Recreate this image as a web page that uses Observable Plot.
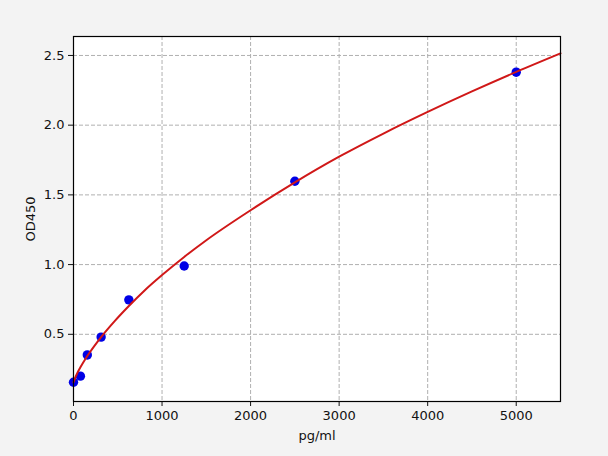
<!DOCTYPE html>
<html>
<head>
<meta charset="utf-8">
<script src="https://cdn.jsdelivr.net/npm/d3@7"></script>
<script src="https://cdn.jsdelivr.net/npm/@observablehq/plot@0.6"></script>
<style>
  html, body { margin: 0; padding: 0; background: #f3f3f3; }
  #chart svg { display: block; }
</style>
</head>
<body>
<div id="chart"></div>
<script>
// Measured standards (concentration pg/ml, OD450)
const concentrations = [0, 78, 156, 312, 625, 1250, 2500, 5000];
const odValues = [0.156, 0.2, 0.352, 0.48, 0.747, 0.99, 1.598, 2.38];

// Fitted curve
const curveX = [0, 20, 40, 78, 156, 312, 470, 625, 800, 1000, 1250, 1500, 2000, 2500, 3000, 3500, 4000, 4500, 5000, 5500];
const curveY = [0.155, 0.19, 0.218, 0.263, 0.344, 0.48, 0.598, 0.703, 0.813, 0.925, 1.055, 1.175, 1.39, 1.59, 1.774, 1.94, 2.095, 2.242, 2.382, 2.515];

const xTicks = [0, 1000, 2000, 3000, 4000, 5000];
const yTicks = [0.5, 1.0, 1.5, 2.0, 2.5];

const points = concentrations.map((c, i) => ({x: c, y: odValues[i]}));
const curve = curveX.map((c, i) => ({x: c, y: curveY[i]}));

const chart = Plot.plot({
  width: 608,
  height: 456,
  marginLeft: 73,
  marginRight: 48,
  marginTop: 36,
  marginBottom: 55,
  style: {background: "#f3f3f3", fontFamily: "DejaVu Sans, sans-serif", fontSize: "13px", color: "#111"},
  x: {domain: [0, 5500]},
  y: {domain: [0.018, 2.636]},
  marks: [
    Plot.frame({fill: "white", stroke: "none"}),
    Plot.gridX(xTicks, {stroke: "#b0b0b0", strokeOpacity: 1, strokeWidth: 1, strokeDasharray: "4,2"}),
    Plot.gridY(yTicks, {stroke: "#b0b0b0", strokeOpacity: 1, strokeWidth: 1, strokeDasharray: "4,2"}),
    Plot.axisX(xTicks, {tickSize: 5, tickPadding: 4, tickFormat: d3.format("d"), label: "pg/ml", labelAnchor: "center", labelArrow: "none", labelOffset: 38, fontSize: 13}),
    Plot.axisY(yTicks, {tickSize: 5, tickPadding: 4, tickFormat: d3.format(".1f"), label: "OD450", labelAnchor: "center", labelArrow: "none", labelOffset: 48, fontSize: 13}),
    Plot.dot(points, {x: "x", y: "y", r: 4.7, fill: "#0000e6", stroke: "none"}),
    Plot.line(curve, {x: "x", y: "y", stroke: "#d01818", strokeWidth: 2, curve: "monotone-x"}),
    Plot.frame({stroke: "black", strokeWidth: 1.2})
  ]
});
document.getElementById("chart").appendChild(chart);
</script>
</body>
</html>
